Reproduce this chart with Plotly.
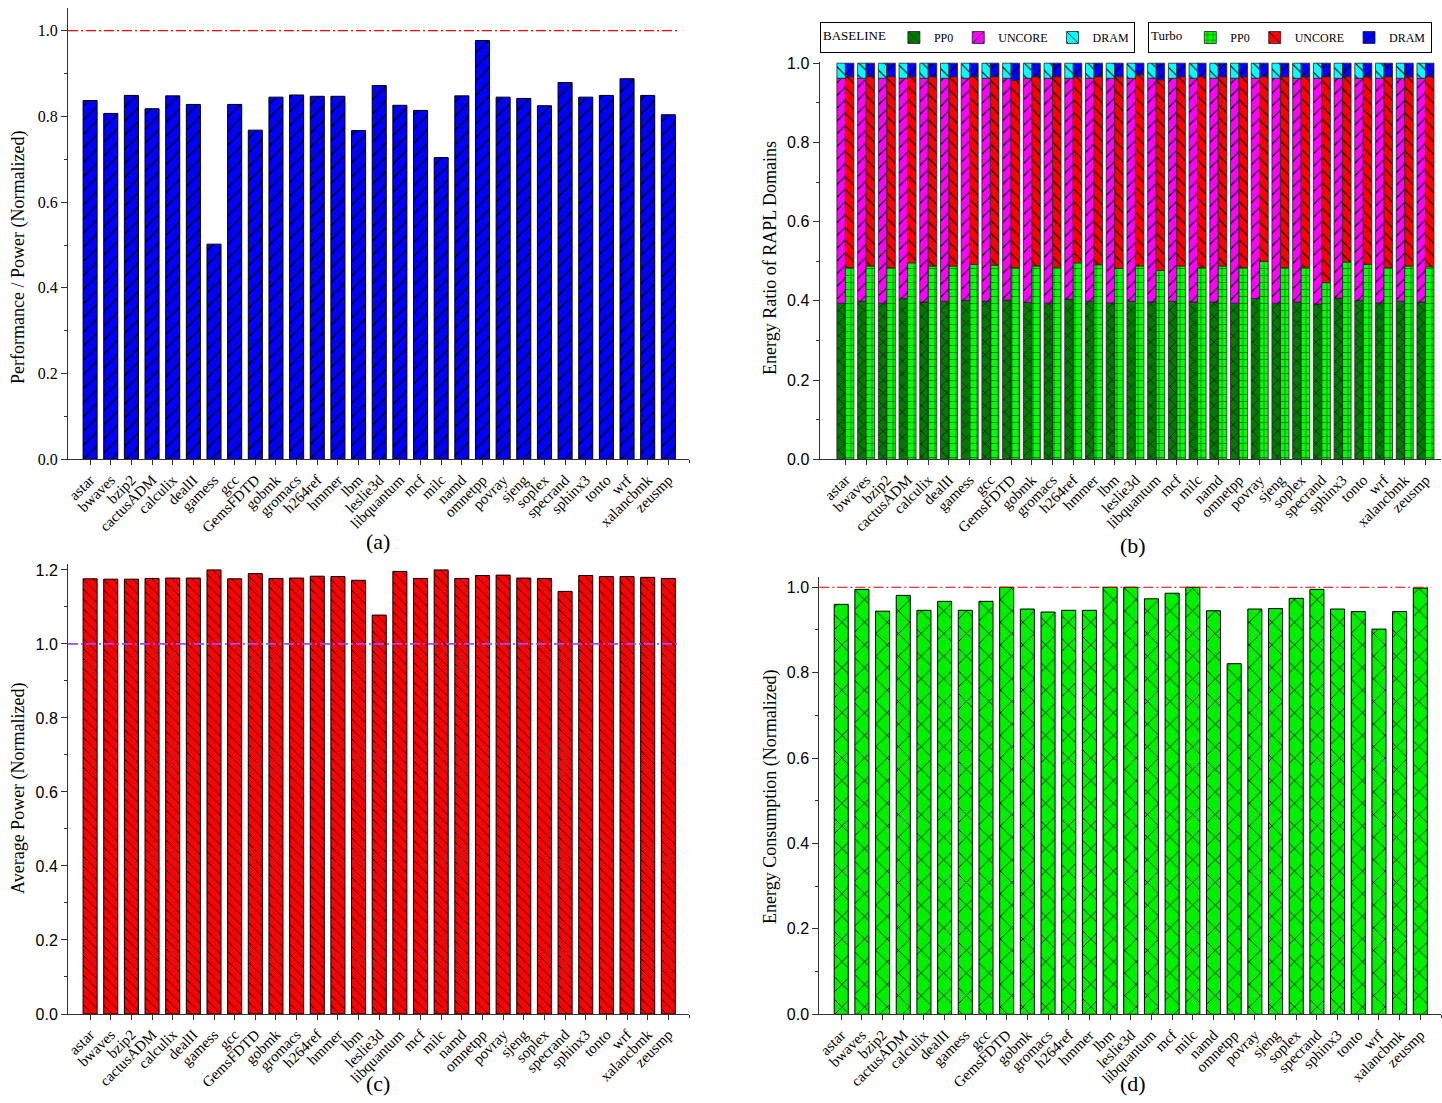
import plotly.graph_objects as go
import numpy as np

W, H = 1442, 1103

categories = ["astar", "bwaves", "bzip2", "cactusADM", "calculix", "dealII", "gamess", "gcc",
              "GemsFDTD", "gobmk", "gromacs", "h264ref", "hmmer", "lbm", "leslie3d", "libquantum",
              "mcf", "milc", "namd", "omnetpp", "povray", "sjeng", "soplex", "specrand", "sphinx3",
              "tonto", "wrf", "xalancbmk", "zeusmp"]

# (a) Performance / Power (normalized)
perf_per_power = [0.837, 0.807, 0.849, 0.818, 0.848, 0.828, 0.502, 0.828, 0.768, 0.845, 0.850,
                  0.847, 0.847, 0.767, 0.872, 0.826, 0.814, 0.704, 0.848, 0.977, 0.845, 0.842,
                  0.825, 0.879, 0.845, 0.849, 0.888, 0.849, 0.804]

# (b) Energy ratio of RAPL domains
base_pp0 = [0.394, 0.399, 0.394, 0.406, 0.397, 0.399, 0.401, 0.399, 0.402, 0.396, 0.394, 0.404,
            0.399, 0.395, 0.399, 0.397, 0.399, 0.397, 0.397, 0.394, 0.406, 0.394, 0.397, 0.392,
            0.407, 0.401, 0.395, 0.399, 0.397]
base_uncore = [0.568, 0.563, 0.568, 0.556, 0.565, 0.563, 0.561, 0.563, 0.560, 0.566, 0.568, 0.558,
               0.563, 0.567, 0.563, 0.565, 0.563, 0.565, 0.565, 0.568, 0.556, 0.568, 0.565, 0.570,
               0.555, 0.561, 0.567, 0.563, 0.565]
base_dram = [0.038, 0.038, 0.038, 0.038, 0.038, 0.038, 0.038, 0.038, 0.038, 0.038, 0.038, 0.038,
             0.038, 0.038, 0.038, 0.038, 0.038, 0.038, 0.038, 0.038, 0.038, 0.038, 0.038, 0.038,
             0.038, 0.038, 0.038, 0.038, 0.038]
turbo_pp0 = [0.484, 0.488, 0.484, 0.496, 0.488, 0.488, 0.492, 0.490, 0.484, 0.488, 0.485, 0.496,
             0.491, 0.482, 0.488, 0.477, 0.488, 0.484, 0.488, 0.484, 0.500, 0.484, 0.485, 0.446,
             0.498, 0.492, 0.484, 0.488, 0.486]
turbo_uncore = [0.482, 0.478, 0.482, 0.470, 0.478, 0.478, 0.474, 0.476, 0.473, 0.478, 0.481, 0.470,
                0.475, 0.484, 0.483, 0.481, 0.478, 0.482, 0.478, 0.482, 0.466, 0.482, 0.481, 0.520,
                0.468, 0.474, 0.482, 0.478, 0.480]
turbo_dram = [0.034, 0.034, 0.034, 0.034, 0.034, 0.034, 0.034, 0.034, 0.043, 0.034, 0.034, 0.034,
              0.034, 0.034, 0.029, 0.042, 0.034, 0.034, 0.034, 0.034, 0.034, 0.034, 0.034, 0.034,
              0.034, 0.034, 0.034, 0.034, 0.034]

# (c) Average power (normalized)
avg_power = [1.176, 1.175, 1.175, 1.177, 1.178, 1.178, 1.200, 1.176, 1.190, 1.177, 1.178, 1.183,
             1.182, 1.172, 1.078, 1.196, 1.177, 1.200, 1.177, 1.185, 1.186, 1.178, 1.177, 1.142,
             1.185, 1.182, 1.182, 1.180, 1.177]

# (d) Energy consumption (normalized)
energy = [0.960, 0.995, 0.944, 0.981, 0.946, 0.967, 0.946, 0.967, 1.000, 0.949, 0.942, 0.946,
          0.946, 1.000, 1.000, 0.973, 0.986, 1.000, 0.945, 0.821, 0.949, 0.950, 0.974, 0.995,
          0.949, 0.943, 0.902, 0.943, 0.998]

SERIF = "Liberation Serif, Times New Roman, serif"
SANS = "Liberation Sans, Arial, sans-serif"


def xd(a, b):
    return [a / W, b / W]


def yd(top, bottom):
    return [1 - bottom / H, 1 - top / H]


def pat(shape, bg, size, solidity=0.12, fg="black"):
    return dict(shape=shape, fgcolor=fg, bgcolor=bg, size=size, solidity=solidity, fillmode="replace")


fig = go.Figure()

# (a)
fig.add_trace(go.Bar(x=categories, y=perf_per_power, width=0.68, xaxis="x", yaxis="y",
                     marker=dict(color="#0000FF", line=dict(color="black", width=1),
                                 pattern=pat("/", "#0000FF", 10)),
                     showlegend=False))

# (b) stacked + grouped via base
b_base_unc = np.array(base_pp0)
b_base_dram = b_base_unc + np.array(base_uncore)
t_base_unc = np.array(turbo_pp0)
t_base_dram = t_base_unc + np.array(turbo_uncore)
bw = 0.41
common_b = dict(xaxis="x2", yaxis="y2", width=bw)
fig.add_trace(go.Bar(x=categories, y=base_pp0, offset=-bw, name="PP0", legend="legend",
                     marker=dict(color="#007A00", line=dict(color="#222", width=0.8),
                                 pattern=pat("x", "#007A00", 9)), **common_b))
fig.add_trace(go.Bar(x=categories, y=base_uncore, base=b_base_unc, offset=-bw, name="UNCORE",
                     legend="legend",
                     marker=dict(color="#FF00FF", line=dict(color="#222", width=0.8),
                                 pattern=pat("/", "#FF00FF", 9)), **common_b))
fig.add_trace(go.Bar(x=categories, y=base_dram, base=b_base_dram, offset=-bw, name="DRAM",
                     legend="legend",
                     marker=dict(color="#00FFFF", line=dict(color="#222", width=0.8),
                                 pattern=pat("\\", "#00FFFF", 9)), **common_b))
fig.add_trace(go.Bar(x=categories, y=turbo_pp0, offset=0, name="PP0", legend="legend2",
                     marker=dict(color="#00FF00", line=dict(color="#222", width=0.8),
                                 pattern=pat("+", "#00FF00", 7)), **common_b))
fig.add_trace(go.Bar(x=categories, y=turbo_uncore, base=t_base_unc, offset=0, name="UNCORE",
                     legend="legend2",
                     marker=dict(color="#FF0000", line=dict(color="#222", width=0.8),
                                 pattern=pat("\\", "#FF0000", 9)), **common_b))
fig.add_trace(go.Bar(x=categories, y=turbo_dram, base=t_base_dram, offset=0, name="DRAM",
                     legend="legend2",
                     marker=dict(color="#0000FF", line=dict(color="#222", width=0.8),
                                 pattern=pat("/", "#0000FF", 9)), **common_b))

# (c)
fig.add_trace(go.Bar(x=categories, y=avg_power, width=0.68, xaxis="x3", yaxis="y3",
                     marker=dict(color="#FF0000", line=dict(color="black", width=1),
                                 pattern=pat("\\", "#FF0000", 7)),
                     showlegend=False))

# (d)
fig.add_trace(go.Bar(x=categories, y=energy, width=0.68, xaxis="x4", yaxis="y4",
                     marker=dict(color="#00F000", line=dict(color="black", width=1),
                                 pattern=pat("x", "#00F000", 16, 0.09)),
                     showlegend=False))


def xaxis_cfg(dom, rng, anchor):
    return dict(domain=dom, range=rng, anchor=anchor, type="category",
                categoryorder="array", categoryarray=categories,
                tickangle=-45, ticks="outside", ticklen=5, tickwidth=1, tickcolor="#333",
                minor=dict(ticks="outside", ticklen=3, tick0=0.5, dtick=1, tickcolor="#333"),
                showline=True, linecolor="#333", linewidth=1, showgrid=False, zeroline=False,
                automargin=False,
                tickfont=dict(family=SERIF, size=15, color="black"), fixedrange=True)


def yaxis_cfg(dom, rng, anchor, font):
    return dict(domain=dom, range=rng, anchor=anchor, dtick=0.2, tick0=0, tickformat=".1f",
                ticks="outside", ticklen=6, tickwidth=1, tickcolor="#333",
                minor=dict(ticks="outside", ticklen=3, dtick=0.1, tickcolor="#333"),
                showline=True, linecolor="#333", linewidth=1, showgrid=False, zeroline=False,
                automargin=False,
                tickfont=dict(family=font, size=16, color="black"), fixedrange=True)


legend_common = dict(orientation="h", y=1 - 22 / H, yanchor="top",
                     bordercolor="black", borderwidth=1, bgcolor="white",
                     font=dict(family=SERIF, size=12, color="black"), itemwidth=30,
                     tracegroupgap=0, itemclick=False, itemdoubleclick=False)

fig.update_layout(
    width=W, height=H, margin=dict(l=0, r=0, t=0, b=0, pad=0, autoexpand=False),
    paper_bgcolor="white", plot_bgcolor="white",
    barmode="overlay",
    xaxis=xaxis_cfg(xd(68, 689), [-1.07, 29.0], "y"),
    yaxis=yaxis_cfg(yd(8, 459.3), [0, 1.053], "x", SERIF),
    xaxis2=xaxis_cfg(xd(819.5, 1441), [-1.25, 28.75], "y2"),
    yaxis2=yaxis_cfg(yd(62, 459.3), [0, 1.003], "x2", SANS),
    xaxis3=xaxis_cfg(xd(68, 689), [-1.07, 29.0], "y3"),
    yaxis3=yaxis_cfg(yd(564, 1014), [0, 1.216], "x3", SANS),
    xaxis4=xaxis_cfg(xd(819.3, 1441), [-1.06, 29.0], "y4"),
    yaxis4=yaxis_cfg(yd(577, 1014.3), [0, 1.024], "x4", SANS),
    legend=dict(x=820 / W, xanchor="left",
                title=dict(text="BASELINE", side="left", font=dict(family=SERIF, size=13)),
                **legend_common),
    legend2=dict(x=1432 / W, xanchor="right",
                 title=dict(text="Turbo", side="left", font=dict(family=SERIF, size=13)),
                 **legend_common),
    showlegend=True,
)

# Reference lines at 1.0
fig.add_shape(type="line", xref="x domain", yref="y", x0=0, x1=0.985, y0=1.0, y1=1.0,
              line=dict(color="#FF0000", width=1.2, dash="10px,3px,2px,3px"))
fig.add_shape(type="line", xref="x3 domain", yref="y3", x0=0, x1=0.985, y0=1.0, y1=1.0,
              line=dict(color="#9B4DFF", width=1.8, dash="10px,3px,2px,3px"))
fig.add_shape(type="line", xref="x4 domain", yref="y4", x0=0, x1=0.985, y0=1.0, y1=1.0,
              line=dict(color="#E00000", width=1.1, dash="10px,3px,2px,3px"))

# Panel labels and axis titles
ann = [
    ("(a)", 378, 541, 0, 22), ("(b)", 1133, 545, 0, 22),
    ("(c)", 378, 1083, 0, 22), ("(d)", 1133, 1083, 0, 22),
    ("Performance / Power (Normalized)", 18, 258, -90, 18),
    ("Energy Ratio of RAPL Domains", 770, 258, -90, 18),
    ("Average Power (Normalized)", 18, 788, -90, 18),
    ("Energy Consumption (Normalized)", 770, 797, -90, 18),
]
for text, px, py, ang, size in ann:
    fig.add_annotation(text=text, x=px / W, y=1 - py / H, xref="paper", yref="paper",
                       showarrow=False, textangle=ang, xanchor="center", yanchor="middle",
                       font=dict(family=SERIF, size=size, color="black"))

fig.write_html("out.html", include_plotlyjs=True, full_html=True,
               config={"displayModeBar": False},
               post_script="document.body.style.margin='0';document.body.style.overflow='hidden';")
